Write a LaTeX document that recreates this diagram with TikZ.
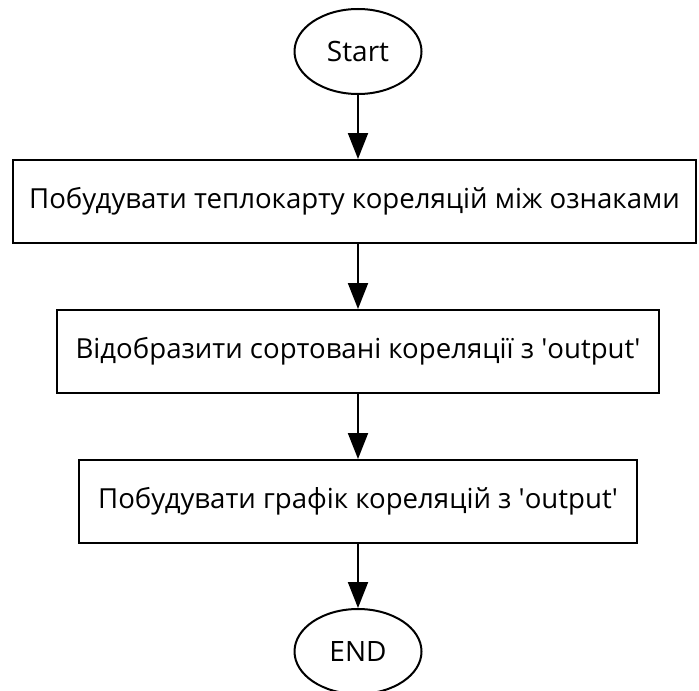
\documentclass[tikz,border=0pt]{standalone}
\usepackage{fontspec}
\setmainfont{Open Sans}
\usetikzlibrary{shapes.geometric, arrows.meta}

\begin{document}
\begin{tikzpicture}[auto, node distance = 75pt,
                terminal/.style={ellipse, draw, line width=1pt, minimum width=63.5pt, minimum height=42.5pt, inner sep=0pt, font=\fontsize{14}{17}\selectfont},
                process/.style={rectangle, draw, line width=1pt, minimum height=41.5pt, inner xsep=9.5pt, font=\fontsize{13.8}{17}\selectfont},
                paths/.style={line width=1pt, -{Triangle[length=13pt, width=10pt]}}
            ]
                \useasboundingbox (0,0) rectangle (349.5pt,-345pt);

                % Nodes
                \node[terminal] (start) at (179pt,-25.75pt) {Start};
                \node[process, below of = start, xshift = -1.75pt, inner xsep = 8pt] (heatmap) {Побудувати теплокарту кореляцій між ознаками};
                \node[process, below of = start, yshift = -75pt] (sorted) {Відобразити сортовані кореляції з \textquotesingle output\textquotesingle};
                \node[process, below of = sorted] (plot) {Побудувати графік кореляцій з \textquotesingle output\textquotesingle};
                \node[terminal, below of = plot] (end) {END};

                % Paths
                \draw[paths] (start) -- (start |- heatmap.north);
                \draw[paths] (sorted |- heatmap.south) -- (sorted);
                \draw[paths] (sorted) -- (plot);
                \draw[paths] (plot) -- (end);
            \end{tikzpicture}
\end{document}
